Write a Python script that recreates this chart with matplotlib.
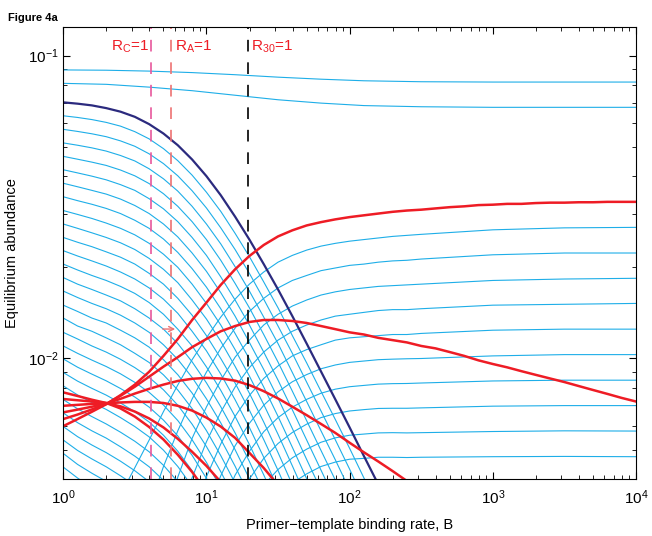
import numpy as np
import matplotlib
matplotlib.use('Agg')
import matplotlib.pyplot as plt

plt.rcParams['font.family'] = ['Liberation Sans', 'DejaVu Sans']
plt.rcParams['mathtext.fontset'] = 'custom'
plt.rcParams['mathtext.rm'] = 'Liberation Sans'

# binding rate B, 10 samples per decade
B_GRID = [1, 1.259, 1.585, 1.995, 2.512, 3.162, 3.981, 5.012, 6.310, 7.943,
          10, 12.59, 15.85, 19.95, 25.12, 31.62, 39.81, 50.12, 63.10, 79.43,
          100, 125.9, 158.5, 199.5, 251.2, 316.2, 398.1, 501.2, 631.0, 794.3,
          1000, 1259, 1585, 1995, 2512, 3162, 3981, 5012, 6310, 7943, 10000]
# rising curves: same grid up to 316, then 1000, 3162, 10000
B_RISE = B_GRID[:26] + [1000, 3162, 10000]
B_TOP = [1, 1.995, 3.981, 7.943, 15.85, 31.62, 63.10, 125.9, 316.2, 1000, 10000]

# abundances, in units of 1e-3
top_1 = [89.7, 89.5, 88.9, 87.9, 86.5, 84.9, 83.6, 82.6, 82.0, 81.8, 81.8]
top_2 = [81.0, 80.4, 78.7, 76.6, 74.0, 71.5, 69.7, 68.4, 67.8, 67.5, 67.5]

dark_blue = [70.1, 69.4, 68.5, 67.1, 65.3, 62.8, 59.4, 55.3, 50.6, 45.4, 40, 34.6, 29.4, 24.7,
             20.5, 16.9, 13.8, 11.2, 9.06, 7.33, 5.92, 4.76, 3.84]

falling = [
    [63.3, 62.5, 61.5, 60.2, 58.5, 56.1, 53.1, 49.3, 45, 40.3, 35.4, 30.6, 25.9, 21.7, 17.9, 14.7, 11.9, 9.67, 7.79, 6.29, 5.05, 4.03, 3.22],
    [57.1, 56.2, 55.2, 54, 52.3, 50.2, 47.4, 44, 40.1, 35.8, 31.4, 27, 22.9, 19.1, 15.7, 12.8, 10.4, 8.35, 6.71, 5.39, 4.31, 3.41],
    [51.5, 50.6, 49.6, 48.4, 46.8, 44.9, 42.3, 39.2, 35.7, 31.8, 27.8, 23.9, 20.1, 16.7, 13.7, 11.2, 8.99, 7.21, 5.77, 4.63, 3.68],
    [46.5, 45.5, 44.5, 43.4, 41.9, 40.1, 37.8, 35, 31.8, 28.3, 24.7, 21.1, 17.7, 14.7, 12, 9.73, 7.8, 6.23, 4.97, 3.97],
    [42, 41, 40, 38.9, 37.5, 35.9, 33.7, 31.2, 28.3, 25.1, 21.9, 18.6, 15.6, 12.9, 10.5, 8.48, 6.77, 5.38, 4.28, 3.4],
    [37.9, 36.9, 35.9, 34.9, 33.6, 32, 30.1, 27.8, 25.2, 22.3, 19.4, 16.5, 13.8, 11.3, 9.2, 7.39, 5.87, 4.64, 3.68],
    [34.2, 33.2, 32.3, 31.3, 30.1, 28.6, 26.9, 24.8, 22.4, 19.8, 17.2, 14.6, 12.1, 9.96, 8.05, 6.44, 5.09, 4.01, 3.17],
    [30.8, 29.9, 29, 28, 26.9, 25.6, 24, 22.1, 20, 17.6, 15.2, 12.9, 10.7, 8.75, 7.05, 5.62, 4.42, 3.46],
    [27.8, 26.9, 26, 25.1, 24.1, 22.9, 21.4, 19.7, 17.8, 15.6, 13.5, 11.4, 9.42, 7.68, 6.17, 4.89, 3.83],
    [25.1, 24.2, 23.4, 22.5, 21.6, 20.5, 19.1, 17.6, 15.8, 13.9, 11.9, 10, 8.3, 6.75, 5.4, 4.27, 3.33],
    [22.7, 21.8, 21, 20.2, 19.3, 18.3, 17.1, 15.7, 14.1, 12.3, 10.6, 8.88, 7.31, 5.92, 4.72, 3.72],
    [20.5, 19.6, 18.8, 18.1, 17.3, 16.4, 15.3, 14, 12.5, 11, 9.38, 7.85, 6.44, 5.2, 4.13, 3.24],
    [18.5, 17.6, 16.9, 16.2, 15.5, 14.6, 13.6, 12.5, 11.2, 9.75, 8.31, 6.93, 5.68, 4.57, 3.61],
    [16.7, 15.9, 15.2, 14.6, 13.9, 13.1, 12.2, 11.1, 9.93, 8.66, 7.36, 6.13, 5, 4.01, 3.16],
    [15, 14.3, 13.6, 13.1, 12.4, 11.7, 10.9, 9.91, 8.84, 7.69, 6.52, 5.41, 4.41, 3.52],
    [13.6, 12.8, 12.3, 11.7, 11.1, 10.4, 9.7, 8.83, 7.87, 6.83, 5.78, 4.78, 3.88],
    [12.2, 11.6, 11, 10.5, 9.94, 9.33, 8.66, 7.88, 7.01, 6.07, 5.12, 4.23, 3.42],
    [11, 10.4, 9.88, 9.41, 8.9, 8.34, 7.73, 7.02, 6.24, 5.39, 4.54, 3.74],
    [9.97, 9.36, 8.88, 8.44, 7.96, 7.46, 6.91, 6.26, 5.55, 4.79, 4.02, 3.3],
    [8.99, 8.42, 7.97, 7.57, 7.13, 6.67, 6.17, 5.58, 4.94, 4.26, 3.56],
    [8.12, 7.58, 7.16, 6.79, 6.38, 5.96, 5.51, 4.98, 4.4, 3.78],
    [7.32, 6.82, 6.43, 6.08, 5.71, 5.33, 4.92, 4.44, 3.92],
    [6.61, 6.14, 5.77, 5.46, 5.11, 4.76, 4.39, 3.96],
    [5.96, 5.52, 5.18, 4.89, 4.58, 4.26, 3.92],
    [5.38, 4.97, 4.66, 4.39, 4.1, 3.81],
    [4.86, 4.47, 4.18, 3.93],
    [4.38, 4.03, 3.75],
]

nan = float('nan')
rising = [
    [nan] * 4 + [3.54, 4.36, 5.38, 6.68, 8.18, 9.91, 11.7, 13.7, 15.7, 17.6, 19.3, 20.8, 21.9, 22.8, 23.5, 24, 24.4, 24.7, 25, 25.3, 25.5, 25.7, 26.6, 27, 27.1],
    [nan] * 6 + [3.21, 4.4, 5.77, 7.35, 9.02, 10.8, 12.6, 14.3, 15.8, 17.1, 18.1, 18.8, 19.5, 19.9, 20.3, 20.5, 20.8, 21, 21.1, 21.3, 22, 22.3, 22.3],
    [nan] * 7 + [2.89, 4.06, 5.45, 6.92, 8.47, 10.1, 11.5, 12.9, 14, 14.9, 15.6, 16.2, 16.6, 16.9, 17.1, 17.3, 17.4, 17.5, 17.6, 18.1, 18.3, 18.4],
    [nan] * 8 + [2.86, 4.04, 5.31, 6.65, 8.05, 9.33, 10.5, 11.5, 12.3, 12.9, 13.4, 13.8, 14, 14.2, 14.4, 14.5, 14.5, 14.6, 15, 15.1, 15.2],
    [nan] * 9 + [2.99, 4.07, 5.22, 6.44, 7.55, 8.59, 9.45, 10.2, 10.7, 11.1, 11.5, 11.7, 11.8, 11.9, 12, 12, 12.1, 12.4, 12.5, 12.5],
    [nan] * 10 + [3.13, 4.1, 5.15, 6.11, 7.01, 7.76, 8.38, 8.85, 9.25, 9.52, 9.71, 9.81, 9.91, 9.95, 9.98, 10, 10.2, 10.3, 10.3],
    [nan] * 11 + [3.22, 4.12, 4.94, 5.73, 6.38, 6.91, 7.33, 7.68, 7.92, 8.07, 8.15, 8.23, 8.26, 8.27, 8.3, 8.43, 8.48, 8.48],
    [nan] * 13 + [4, 4.68, 5.24, 5.7, 6.07, 6.38, 6.58, 6.71, 6.78, 6.84, 6.85, 6.85, 6.87, 6.96, 6.99, 6.99],
    [nan] * 14 + [3.82, 4.3, 4.7, 5.02, 5.29, 5.47, 5.58, 5.63, 5.68, 5.69, 5.68, 5.69, 5.74, 5.77, 5.76],
    [nan] * 16 + [3.88, 4.16, 4.4, 4.55, 4.65, 4.68, 4.72, 4.72, 4.71, 4.72, 4.74, 4.75, 4.74],
]

red = [
    [5.98, 6.31, 6.67, 7.06, 7.57, 8.2, 9.04, 10.2, 11.6, 13.4, 15.3, 17.5, 19.7, 21.8, 23.7, 25.3, 26.5, 27.5, 28.2, 28.8, 29.3,
     29.7, 30.1, 30.5, 30.8, 31, 31.3, 31.6, 31.8, 32.1, 32.2, 32.4, 32.4, 32.6, 32.7, 32.7, 32.8, 32.8, 32.9, 32.9, 32.9],
    [6.31, 6.53, 6.79, 7.08, 7.53, 8.07, 8.71, 9.4, 10.1, 10.9, 11.6, 12.3, 12.8, 13.2, 13.4, 13.4, 13.3, 13.1, 12.8, 12.5, 12.2,
     12, 11.7, 11.5, 11.3, 11, 10.8, 10.5, 10.2, 9.86, 9.59, 9.35, 9.08, 8.83, 8.59, 8.36, 8.11, 7.87, 7.64, 7.41, 7.21],
    [6.64, 6.78, 6.93, 7.1, 7.36, 7.66, 7.94, 8.2, 8.43, 8.57, 8.63, 8.59, 8.45, 8.17, 7.8, 7.38, 6.93, 6.5, 6.08, 5.68, 5.27,
     4.9, 4.57, 4.25, 3.94],
    [6.98, 7.03, 7.08, 7.11, 7.16, 7.19, 7.19, 7.13, 6.98, 6.73, 6.38, 5.96, 5.47, 4.88, 4.35, 3.82],
    [7.35, 7.28, 7.21, 7.13, 6.95, 6.68, 6.34, 5.92, 5.43, 4.92, 4.42, 3.91],
    [7.73, 7.52, 7.31, 7.13, 6.84, 6.43, 5.94, 5.4, 4.81, 4.22, 3.63],
]

# B where each ratio equals one
thresholds = [('C', 4.1, '#e8589c'), ('A', 5.66, '#ee7272'), ('30', 19.5, 'black')]

CYAN = '#1eaee8'
NAVY = '#2b2a7e'
RED = '#ee1c25'


def curve(ax, xs, vals, **kw):
    ys = np.array(vals, dtype=float) * 1e-3
    ax.plot(xs[:len(ys)], ys, **kw)


fig = plt.figure(figsize=(6.52, 5.36), dpi=100)
ax = fig.add_axes([0.097, 0.1063, 0.8785, 0.8427])
ax.set_xscale('log')
ax.set_yscale('log')

for vals in falling:
    curve(ax, B_GRID, vals, color=CYAN, lw=0.8)
for vals in rising:
    curve(ax, B_RISE, vals, color=CYAN, lw=0.8)
curve(ax, B_TOP, top_1, color=CYAN, lw=0.8)
curve(ax, B_TOP, top_2, color=CYAN, lw=0.8)
curve(ax, B_GRID, dark_blue, color=NAVY, lw=1.6)
for vals in red:
    curve(ax, B_GRID, vals, color=RED, lw=1.8)

for name, b, col in thresholds:
    ax.axvline(b, color=col, lw=1.2, dashes=(7, 6.5))
ax.text(3.95, 0.107, r'R$_\mathrm{C}$=1', color=RED, fontsize=11, ha='right', va='center')
ax.text(6.0, 0.107, r'R$_\mathrm{A}$=1', color=RED, fontsize=11, ha='left', va='center')
ax.text(20.5, 0.107, r'R$_\mathrm{30}$=1', color=RED, fontsize=11, ha='left', va='center')
ax.annotate('', xy=(6.05, 0.01251), xytext=(4.95, 0.01251),
            arrowprops=dict(arrowstyle='->', color='#ee7272', lw=1.0,
                            shrinkA=0, shrinkB=0, mutation_scale=9))

ax.set_xlim(1, 1e4)
ax.set_ylim(0.004, 0.124)
ax.tick_params(which='both', direction='in', top=True, right=True, labelsize=11)
ax.tick_params(axis='x', pad=7)
ax.tick_params(which='major', length=5)
ax.tick_params(which='minor', length=3)
ax.set_xlabel('Primer\u2212template binding rate, B', fontsize=10.5, labelpad=8)
ax.set_ylabel('Equilibrium abundance', fontsize=10.5, labelpad=6)
fig.text(0.012, 0.975, 'Figure 4a', fontsize=8, fontweight='bold', va='top')

fig.savefig('out.png', dpi=100)
